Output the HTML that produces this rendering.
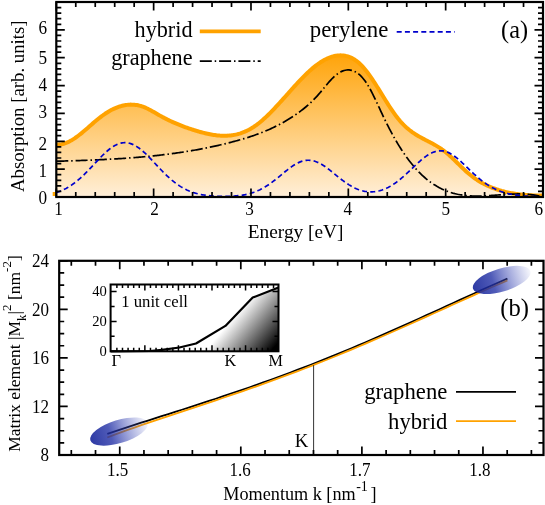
<!DOCTYPE html>
<html><head><meta charset="utf-8"><title>chart</title><style>html,body{margin:0;padding:0;background:#fff}svg{display:block;will-change:transform}</style></head><body>
<svg width="545" height="505" viewBox="0 0 545 505" font-family="Liberation Serif, serif" fill="#000">
<defs>
<linearGradient id="og" gradientUnits="userSpaceOnUse" x1="0" y1="54.9" x2="0" y2="197.0"><stop offset="0" stop-color="#ffa40a"/><stop offset="1" stop-color="#ffefd9"/></linearGradient>
<linearGradient id="ig" gradientUnits="userSpaceOnUse" x1="207.7" y1="347.8" x2="246.3" y2="380.4"><stop offset="0" stop-color="#fff"/><stop offset="1" stop-color="#000"/></linearGradient>
<linearGradient id="eg" x1="0" y1="0" x2="1" y2="0"><stop offset="0" stop-color="#16249a" stop-opacity="0.9"/><stop offset="0.35" stop-color="#2432a6" stop-opacity="0.8"/><stop offset="1" stop-color="#4654c0" stop-opacity="0.05"/></linearGradient>
<clipPath id="ct"><rect x="56.3" y="2.0" width="486.7" height="195.0"/></clipPath>
</defs>
<rect width="545" height="505" fill="#fff"/>
<path d="M56.30,144.33 L57.52,144.43 L58.74,144.44 L59.96,144.37 L61.18,144.23 L62.40,144.01 L63.62,143.71 L64.84,143.35 L66.06,142.92 L67.28,142.43 L68.50,141.88 L69.72,141.27 L70.94,140.61 L72.16,139.91 L73.38,139.15 L74.60,138.35 L75.82,137.51 L77.04,136.64 L78.26,135.73 L79.48,134.79 L80.70,133.82 L81.92,132.83 L83.14,131.82 L84.36,130.80 L85.58,129.75 L86.79,128.70 L88.01,127.64 L89.23,126.57 L90.45,125.51 L91.67,124.44 L92.89,123.39 L94.11,122.33 L95.33,121.30 L96.55,120.27 L97.77,119.27 L98.99,118.28 L100.21,117.32 L101.43,116.39 L102.65,115.49 L103.87,114.62 L105.09,113.78 L106.31,112.98 L107.53,112.21 L108.75,111.47 L109.97,110.77 L111.19,110.11 L112.41,109.48 L113.63,108.88 L114.85,108.33 L116.07,107.81 L117.29,107.32 L118.51,106.88 L119.73,106.47 L120.95,106.10 L122.17,105.78 L123.39,105.49 L124.61,105.24 L125.83,105.03 L127.05,104.87 L128.27,104.74 L129.49,104.66 L130.71,104.62 L131.93,104.63 L133.15,104.67 L134.37,104.77 L135.59,104.90 L136.81,105.08 L138.03,105.31 L139.25,105.59 L140.47,105.91 L141.69,106.27 L142.91,106.69 L144.13,107.15 L145.35,107.66 L146.57,108.21 L147.78,108.79 L149.00,109.41 L150.22,110.05 L151.44,110.72 L152.66,111.40 L153.88,112.10 L155.10,112.80 L156.32,113.51 L157.54,114.22 L158.76,114.93 L159.98,115.62 L161.20,116.30 L162.42,116.96 L163.64,117.62 L164.86,118.25 L166.08,118.88 L167.30,119.49 L168.52,120.09 L169.74,120.68 L170.96,121.25 L172.18,121.82 L173.40,122.37 L174.62,122.91 L175.84,123.43 L177.06,123.95 L178.28,124.46 L179.50,124.95 L180.72,125.44 L181.94,125.91 L183.16,126.38 L184.38,126.83 L185.60,127.28 L186.82,127.71 L188.04,128.14 L189.26,128.56 L190.48,128.96 L191.70,129.37 L192.92,129.76 L194.14,130.14 L195.36,130.52 L196.58,130.89 L197.80,131.25 L199.02,131.61 L200.24,131.95 L201.46,132.28 L202.68,132.61 L203.90,132.92 L205.12,133.22 L206.34,133.51 L207.56,133.78 L208.77,134.04 L209.99,134.28 L211.21,134.51 L212.43,134.72 L213.65,134.92 L214.87,135.09 L216.09,135.25 L217.31,135.39 L218.53,135.50 L219.75,135.60 L220.97,135.67 L222.19,135.73 L223.41,135.75 L224.63,135.76 L225.85,135.74 L227.07,135.69 L228.29,135.62 L229.51,135.52 L230.73,135.40 L231.95,135.24 L233.17,135.06 L234.39,134.85 L235.61,134.60 L236.83,134.33 L238.05,134.02 L239.27,133.68 L240.49,133.31 L241.71,132.90 L242.93,132.46 L244.15,131.98 L245.37,131.46 L246.59,130.91 L247.81,130.32 L249.03,129.69 L250.25,129.02 L251.47,128.31 L252.69,127.56 L253.91,126.77 L255.13,125.94 L256.35,125.07 L257.57,124.16 L258.79,123.21 L260.01,122.23 L261.23,121.21 L262.45,120.17 L263.67,119.09 L264.89,117.98 L266.11,116.85 L267.33,115.69 L268.55,114.51 L269.76,113.30 L270.98,112.07 L272.20,110.82 L273.42,109.55 L274.64,108.27 L275.86,106.97 L277.08,105.66 L278.30,104.33 L279.52,103.00 L280.74,101.65 L281.96,100.30 L283.18,98.94 L284.40,97.58 L285.62,96.21 L286.84,94.84 L288.06,93.47 L289.28,92.10 L290.50,90.74 L291.72,89.38 L292.94,88.02 L294.16,86.68 L295.38,85.34 L296.60,84.01 L297.82,82.70 L299.04,81.39 L300.26,80.11 L301.48,78.84 L302.70,77.58 L303.92,76.35 L305.14,75.14 L306.36,73.95 L307.58,72.78 L308.80,71.64 L310.02,70.53 L311.24,69.44 L312.46,68.39 L313.68,67.37 L314.90,66.38 L316.12,65.42 L317.34,64.51 L318.56,63.62 L319.78,62.78 L321.00,61.98 L322.22,61.22 L323.44,60.50 L324.66,59.82 L325.88,59.18 L327.10,58.59 L328.32,58.05 L329.54,57.55 L330.75,57.10 L331.97,56.70 L333.19,56.35 L334.41,56.05 L335.63,55.80 L336.85,55.61 L338.07,55.46 L339.29,55.38 L340.51,55.35 L341.73,55.38 L342.95,55.46 L344.17,55.61 L345.39,55.83 L346.61,56.10 L347.83,56.45 L349.05,56.86 L350.27,57.34 L351.49,57.90 L352.71,58.53 L353.93,59.23 L355.15,60.02 L356.37,60.88 L357.59,61.82 L358.81,62.84 L360.03,63.95 L361.25,65.15 L362.47,66.43 L363.69,67.79 L364.91,69.23 L366.13,70.74 L367.35,72.32 L368.57,73.96 L369.79,75.65 L371.01,77.40 L372.23,79.19 L373.45,81.02 L374.67,82.89 L375.89,84.79 L377.11,86.71 L378.33,88.65 L379.55,90.61 L380.77,92.58 L381.99,94.55 L383.21,96.53 L384.43,98.50 L385.65,100.45 L386.87,102.39 L388.09,104.31 L389.31,106.21 L390.53,108.07 L391.74,109.90 L392.96,111.69 L394.18,113.43 L395.40,115.12 L396.62,116.75 L397.84,118.32 L399.06,119.82 L400.28,121.26 L401.50,122.62 L402.72,123.92 L403.94,125.15 L405.16,126.32 L406.38,127.44 L407.60,128.50 L408.82,129.52 L410.04,130.48 L411.26,131.40 L412.48,132.29 L413.70,133.13 L414.92,133.94 L416.14,134.71 L417.36,135.46 L418.58,136.18 L419.80,136.88 L421.02,137.56 L422.24,138.23 L423.46,138.88 L424.68,139.52 L425.90,140.16 L427.12,140.79 L428.34,141.42 L429.56,142.06 L430.78,142.70 L432.00,143.35 L433.22,144.01 L434.44,144.69 L435.66,145.39 L436.88,146.11 L438.10,146.85 L439.32,147.62 L440.54,148.43 L441.76,149.26 L442.98,150.14 L444.20,151.05 L445.42,152.01 L446.64,153.01 L447.86,154.05 L449.08,155.12 L450.30,156.23 L451.52,157.36 L452.73,158.51 L453.95,159.68 L455.17,160.86 L456.39,162.05 L457.61,163.25 L458.83,164.44 L460.05,165.64 L461.27,166.82 L462.49,168.00 L463.71,169.16 L464.93,170.30 L466.15,171.42 L467.37,172.51 L468.59,173.56 L469.81,174.58 L471.03,175.56 L472.25,176.51 L473.47,177.42 L474.69,178.30 L475.91,179.14 L477.13,179.96 L478.35,180.74 L479.57,181.49 L480.79,182.21 L482.01,182.90 L483.23,183.57 L484.45,184.20 L485.67,184.82 L486.89,185.41 L488.11,185.97 L489.33,186.51 L490.55,187.03 L491.77,187.54 L492.99,188.02 L494.21,188.48 L495.43,188.92 L496.65,189.34 L497.87,189.75 L499.09,190.14 L500.31,190.50 L501.53,190.86 L502.75,191.19 L503.97,191.51 L505.19,191.82 L506.41,192.11 L507.63,192.38 L508.85,192.64 L510.07,192.88 L511.29,193.11 L512.51,193.33 L513.72,193.54 L514.94,193.73 L516.16,193.91 L517.38,194.08 L518.60,194.23 L519.82,194.38 L521.04,194.52 L522.26,194.64 L523.48,194.76 L524.70,194.86 L525.92,194.96 L527.14,195.05 L528.36,195.13 L529.58,195.21 L530.80,195.27 L532.02,195.33 L533.24,195.39 L534.46,195.43 L535.68,195.48 L536.90,195.51 L538.12,195.54 L539.34,195.57 L540.56,195.60 L541.78,195.62 L543.00,195.63 L543.00,197.00 L56.30,197.00 Z" fill="url(#og)" stroke="none"/>
<rect x="52.7" y="192" width="2.6" height="4" fill="#ffa500"/>
<path d="M56.30,144.33 L57.52,144.43 L58.74,144.44 L59.96,144.37 L61.18,144.23 L62.40,144.01 L63.62,143.71 L64.84,143.35 L66.06,142.92 L67.28,142.43 L68.50,141.88 L69.72,141.27 L70.94,140.61 L72.16,139.91 L73.38,139.15 L74.60,138.35 L75.82,137.51 L77.04,136.64 L78.26,135.73 L79.48,134.79 L80.70,133.82 L81.92,132.83 L83.14,131.82 L84.36,130.80 L85.58,129.75 L86.79,128.70 L88.01,127.64 L89.23,126.57 L90.45,125.51 L91.67,124.44 L92.89,123.39 L94.11,122.33 L95.33,121.30 L96.55,120.27 L97.77,119.27 L98.99,118.28 L100.21,117.32 L101.43,116.39 L102.65,115.49 L103.87,114.62 L105.09,113.78 L106.31,112.98 L107.53,112.21 L108.75,111.47 L109.97,110.77 L111.19,110.11 L112.41,109.48 L113.63,108.88 L114.85,108.33 L116.07,107.81 L117.29,107.32 L118.51,106.88 L119.73,106.47 L120.95,106.10 L122.17,105.78 L123.39,105.49 L124.61,105.24 L125.83,105.03 L127.05,104.87 L128.27,104.74 L129.49,104.66 L130.71,104.62 L131.93,104.63 L133.15,104.67 L134.37,104.77 L135.59,104.90 L136.81,105.08 L138.03,105.31 L139.25,105.59 L140.47,105.91 L141.69,106.27 L142.91,106.69 L144.13,107.15 L145.35,107.66 L146.57,108.21 L147.78,108.79 L149.00,109.41 L150.22,110.05 L151.44,110.72 L152.66,111.40 L153.88,112.10 L155.10,112.80 L156.32,113.51 L157.54,114.22 L158.76,114.93 L159.98,115.62 L161.20,116.30 L162.42,116.96 L163.64,117.62 L164.86,118.25 L166.08,118.88 L167.30,119.49 L168.52,120.09 L169.74,120.68 L170.96,121.25 L172.18,121.82 L173.40,122.37 L174.62,122.91 L175.84,123.43 L177.06,123.95 L178.28,124.46 L179.50,124.95 L180.72,125.44 L181.94,125.91 L183.16,126.38 L184.38,126.83 L185.60,127.28 L186.82,127.71 L188.04,128.14 L189.26,128.56 L190.48,128.96 L191.70,129.37 L192.92,129.76 L194.14,130.14 L195.36,130.52 L196.58,130.89 L197.80,131.25 L199.02,131.61 L200.24,131.95 L201.46,132.28 L202.68,132.61 L203.90,132.92 L205.12,133.22 L206.34,133.51 L207.56,133.78 L208.77,134.04 L209.99,134.28 L211.21,134.51 L212.43,134.72 L213.65,134.92 L214.87,135.09 L216.09,135.25 L217.31,135.39 L218.53,135.50 L219.75,135.60 L220.97,135.67 L222.19,135.73 L223.41,135.75 L224.63,135.76 L225.85,135.74 L227.07,135.69 L228.29,135.62 L229.51,135.52 L230.73,135.40 L231.95,135.24 L233.17,135.06 L234.39,134.85 L235.61,134.60 L236.83,134.33 L238.05,134.02 L239.27,133.68 L240.49,133.31 L241.71,132.90 L242.93,132.46 L244.15,131.98 L245.37,131.46 L246.59,130.91 L247.81,130.32 L249.03,129.69 L250.25,129.02 L251.47,128.31 L252.69,127.56 L253.91,126.77 L255.13,125.94 L256.35,125.07 L257.57,124.16 L258.79,123.21 L260.01,122.23 L261.23,121.21 L262.45,120.17 L263.67,119.09 L264.89,117.98 L266.11,116.85 L267.33,115.69 L268.55,114.51 L269.76,113.30 L270.98,112.07 L272.20,110.82 L273.42,109.55 L274.64,108.27 L275.86,106.97 L277.08,105.66 L278.30,104.33 L279.52,103.00 L280.74,101.65 L281.96,100.30 L283.18,98.94 L284.40,97.58 L285.62,96.21 L286.84,94.84 L288.06,93.47 L289.28,92.10 L290.50,90.74 L291.72,89.38 L292.94,88.02 L294.16,86.68 L295.38,85.34 L296.60,84.01 L297.82,82.70 L299.04,81.39 L300.26,80.11 L301.48,78.84 L302.70,77.58 L303.92,76.35 L305.14,75.14 L306.36,73.95 L307.58,72.78 L308.80,71.64 L310.02,70.53 L311.24,69.44 L312.46,68.39 L313.68,67.37 L314.90,66.38 L316.12,65.42 L317.34,64.51 L318.56,63.62 L319.78,62.78 L321.00,61.98 L322.22,61.22 L323.44,60.50 L324.66,59.82 L325.88,59.18 L327.10,58.59 L328.32,58.05 L329.54,57.55 L330.75,57.10 L331.97,56.70 L333.19,56.35 L334.41,56.05 L335.63,55.80 L336.85,55.61 L338.07,55.46 L339.29,55.38 L340.51,55.35 L341.73,55.38 L342.95,55.46 L344.17,55.61 L345.39,55.83 L346.61,56.10 L347.83,56.45 L349.05,56.86 L350.27,57.34 L351.49,57.90 L352.71,58.53 L353.93,59.23 L355.15,60.02 L356.37,60.88 L357.59,61.82 L358.81,62.84 L360.03,63.95 L361.25,65.15 L362.47,66.43 L363.69,67.79 L364.91,69.23 L366.13,70.74 L367.35,72.32 L368.57,73.96 L369.79,75.65 L371.01,77.40 L372.23,79.19 L373.45,81.02 L374.67,82.89 L375.89,84.79 L377.11,86.71 L378.33,88.65 L379.55,90.61 L380.77,92.58 L381.99,94.55 L383.21,96.53 L384.43,98.50 L385.65,100.45 L386.87,102.39 L388.09,104.31 L389.31,106.21 L390.53,108.07 L391.74,109.90 L392.96,111.69 L394.18,113.43 L395.40,115.12 L396.62,116.75 L397.84,118.32 L399.06,119.82 L400.28,121.26 L401.50,122.62 L402.72,123.92 L403.94,125.15 L405.16,126.32 L406.38,127.44 L407.60,128.50 L408.82,129.52 L410.04,130.48 L411.26,131.40 L412.48,132.29 L413.70,133.13 L414.92,133.94 L416.14,134.71 L417.36,135.46 L418.58,136.18 L419.80,136.88 L421.02,137.56 L422.24,138.23 L423.46,138.88 L424.68,139.52 L425.90,140.16 L427.12,140.79 L428.34,141.42 L429.56,142.06 L430.78,142.70 L432.00,143.35 L433.22,144.01 L434.44,144.69 L435.66,145.39 L436.88,146.11 L438.10,146.85 L439.32,147.62 L440.54,148.43 L441.76,149.26 L442.98,150.14 L444.20,151.05 L445.42,152.01 L446.64,153.01 L447.86,154.05 L449.08,155.12 L450.30,156.23 L451.52,157.36 L452.73,158.51 L453.95,159.68 L455.17,160.86 L456.39,162.05 L457.61,163.25 L458.83,164.44 L460.05,165.64 L461.27,166.82 L462.49,168.00 L463.71,169.16 L464.93,170.30 L466.15,171.42 L467.37,172.51 L468.59,173.56 L469.81,174.58 L471.03,175.56 L472.25,176.51 L473.47,177.42 L474.69,178.30 L475.91,179.14 L477.13,179.96 L478.35,180.74 L479.57,181.49 L480.79,182.21 L482.01,182.90 L483.23,183.57 L484.45,184.20 L485.67,184.82 L486.89,185.41 L488.11,185.97 L489.33,186.51 L490.55,187.03 L491.77,187.54 L492.99,188.02 L494.21,188.48 L495.43,188.92 L496.65,189.34 L497.87,189.75 L499.09,190.14 L500.31,190.50 L501.53,190.86 L502.75,191.19 L503.97,191.51 L505.19,191.82 L506.41,192.11 L507.63,192.38 L508.85,192.64 L510.07,192.88 L511.29,193.11 L512.51,193.33 L513.72,193.54 L514.94,193.73 L516.16,193.91 L517.38,194.08 L518.60,194.23 L519.82,194.38 L521.04,194.52 L522.26,194.64 L523.48,194.76 L524.70,194.86 L525.92,194.96 L527.14,195.05 L528.36,195.13 L529.58,195.21 L530.80,195.27 L532.02,195.33 L533.24,195.39 L534.46,195.43 L535.68,195.48 L536.90,195.51 L538.12,195.54 L539.34,195.57 L540.56,195.60 L541.78,195.62 L543.00,195.63" fill="none" stroke="#ffa200" stroke-width="4" stroke-linejoin="round"/>
<path d="M56.30,161.25 L57.52,161.21 L58.74,161.18 L59.96,161.14 L61.18,161.11 L62.40,161.07 L63.62,161.04 L64.84,161.00 L66.06,160.96 L67.28,160.93 L68.50,160.89 L69.72,160.85 L70.94,160.81 L72.16,160.78 L73.38,160.74 L74.60,160.70 L75.82,160.66 L77.04,160.62 L78.26,160.58 L79.48,160.53 L80.70,160.49 L81.92,160.45 L83.14,160.41 L84.36,160.36 L85.58,160.32 L86.79,160.27 L88.01,160.22 L89.23,160.18 L90.45,160.13 L91.67,160.08 L92.89,160.03 L94.11,159.98 L95.33,159.92 L96.55,159.87 L97.77,159.82 L98.99,159.76 L100.21,159.70 L101.43,159.65 L102.65,159.59 L103.87,159.53 L105.09,159.47 L106.31,159.41 L107.53,159.34 L108.75,159.28 L109.97,159.21 L111.19,159.15 L112.41,159.08 L113.63,159.01 L114.85,158.94 L116.07,158.87 L117.29,158.79 L118.51,158.72 L119.73,158.64 L120.95,158.56 L122.17,158.48 L123.39,158.40 L124.61,158.32 L125.83,158.24 L127.05,158.15 L128.27,158.06 L129.49,157.97 L130.71,157.88 L131.93,157.79 L133.15,157.70 L134.37,157.60 L135.59,157.50 L136.81,157.40 L138.03,157.30 L139.25,157.20 L140.47,157.10 L141.69,156.99 L142.91,156.88 L144.13,156.77 L145.35,156.66 L146.57,156.54 L147.78,156.42 L149.00,156.31 L150.22,156.18 L151.44,156.06 L152.66,155.94 L153.88,155.81 L155.10,155.68 L156.32,155.55 L157.54,155.41 L158.76,155.28 L159.98,155.14 L161.20,155.00 L162.42,154.85 L163.64,154.71 L164.86,154.56 L166.08,154.41 L167.30,154.26 L168.52,154.10 L169.74,153.94 L170.96,153.78 L172.18,153.62 L173.40,153.46 L174.62,153.29 L175.84,153.12 L177.06,152.94 L178.28,152.77 L179.50,152.59 L180.72,152.41 L181.94,152.22 L183.16,152.04 L184.38,151.85 L185.60,151.66 L186.82,151.46 L188.04,151.26 L189.26,151.06 L190.48,150.86 L191.70,150.65 L192.92,150.44 L194.14,150.23 L195.36,150.01 L196.58,149.79 L197.80,149.57 L199.02,149.35 L200.24,149.12 L201.46,148.89 L202.68,148.65 L203.90,148.42 L205.12,148.18 L206.34,147.93 L207.56,147.68 L208.77,147.43 L209.99,147.18 L211.21,146.92 L212.43,146.66 L213.65,146.40 L214.87,146.13 L216.09,145.86 L217.31,145.59 L218.53,145.31 L219.75,145.03 L220.97,144.74 L222.19,144.45 L223.41,144.16 L224.63,143.87 L225.85,143.57 L227.07,143.26 L228.29,142.96 L229.51,142.65 L230.73,142.33 L231.95,142.01 L233.17,141.69 L234.39,141.37 L235.61,141.04 L236.83,140.70 L238.05,140.36 L239.27,140.02 L240.49,139.67 L241.71,139.32 L242.93,138.96 L244.15,138.59 L245.37,138.22 L246.59,137.85 L247.81,137.46 L249.03,137.07 L250.25,136.67 L251.47,136.27 L252.69,135.86 L253.91,135.44 L255.13,135.01 L256.35,134.57 L257.57,134.13 L258.79,133.67 L260.01,133.21 L261.23,132.74 L262.45,132.26 L263.67,131.77 L264.89,131.27 L266.11,130.76 L267.33,130.24 L268.55,129.71 L269.76,129.16 L270.98,128.61 L272.20,128.05 L273.42,127.47 L274.64,126.88 L275.86,126.28 L277.08,125.67 L278.30,125.05 L279.52,124.41 L280.74,123.76 L281.96,123.09 L283.18,122.42 L284.40,121.72 L285.62,121.02 L286.84,120.30 L288.06,119.57 L289.28,118.82 L290.50,118.05 L291.72,117.27 L292.94,116.48 L294.16,115.67 L295.38,114.84 L296.60,114.00 L297.82,113.14 L299.04,112.26 L300.26,111.36 L301.48,110.44 L302.70,109.49 L303.92,108.52 L305.14,107.52 L306.36,106.49 L307.58,105.44 L308.80,104.36 L310.02,103.24 L311.24,102.09 L312.46,100.91 L313.68,99.69 L314.90,98.43 L316.12,97.14 L317.34,95.81 L318.56,94.43 L319.78,93.02 L321.00,91.58 L322.22,90.11 L323.44,88.63 L324.66,87.15 L325.88,85.68 L327.10,84.22 L328.32,82.80 L329.54,81.40 L330.75,80.06 L331.97,78.77 L333.19,77.54 L334.41,76.40 L335.63,75.33 L336.85,74.36 L338.07,73.48 L339.29,72.69 L340.51,72.00 L341.73,71.40 L342.95,70.90 L344.17,70.50 L345.39,70.21 L346.61,70.01 L347.83,69.92 L349.05,69.94 L350.27,70.06 L351.49,70.30 L352.71,70.64 L353.93,71.10 L355.15,71.68 L356.37,72.38 L357.59,73.19 L358.81,74.13 L360.03,75.20 L361.25,76.40 L362.47,77.72 L363.69,79.18 L364.91,80.77 L366.13,82.50 L367.35,84.37 L368.57,86.37 L369.79,88.51 L371.01,90.75 L372.23,93.10 L373.45,95.53 L374.67,98.03 L375.89,100.59 L377.11,103.19 L378.33,105.81 L379.55,108.45 L380.77,111.09 L381.99,113.71 L383.21,116.29 L384.43,118.84 L385.65,121.34 L386.87,123.79 L388.09,126.20 L389.31,128.56 L390.53,130.88 L391.74,133.15 L392.96,135.38 L394.18,137.56 L395.40,139.69 L396.62,141.78 L397.84,143.82 L399.06,145.82 L400.28,147.78 L401.50,149.69 L402.72,151.55 L403.94,153.37 L405.16,155.14 L406.38,156.87 L407.60,158.55 L408.82,160.19 L410.04,161.78 L411.26,163.33 L412.48,164.84 L413.70,166.30 L414.92,167.71 L416.14,169.08 L417.36,170.41 L418.58,171.70 L419.80,172.94 L421.02,174.14 L422.24,175.31 L423.46,176.43 L424.68,177.51 L425.90,178.55 L427.12,179.56 L428.34,180.53 L429.56,181.46 L430.78,182.36 L432.00,183.22 L433.22,184.04 L434.44,184.84 L435.66,185.59 L436.88,186.32 L438.10,187.01 L439.32,187.67 L440.54,188.31 L441.76,188.91 L442.98,189.48 L444.20,190.02 L445.42,190.53 L446.64,191.02 L447.86,191.48 L449.08,191.91 L450.30,192.32 L451.52,192.70 L452.73,193.06 L453.95,193.39 L455.17,193.70 L456.39,193.99 L457.61,194.26 L458.83,194.50 L460.05,194.73 L461.27,194.93 L462.49,195.11 L463.71,195.28 L464.93,195.43 L466.15,195.56 L467.37,195.68 L468.59,195.77 L469.81,195.86 L471.03,195.93 L472.25,195.98 L473.47,196.02 L474.69,196.05 L475.91,196.06 L477.13,196.07 L478.35,196.06 L479.57,196.04 L480.79,196.02 L482.01,195.98 L483.23,195.94 L484.45,195.89 L485.67,195.83 L486.89,195.76 L488.11,195.69 L489.33,195.62 L490.55,195.54 L491.77,195.45 L492.99,195.37 L494.21,195.28 L495.43,195.19 L496.65,195.09 L497.87,195.00 L499.09,194.91 L500.31,194.82 L501.53,194.73 L502.75,194.64 L503.97,194.55 L505.19,194.47 L506.41,194.39 L507.63,194.31 L508.85,194.24 L510.07,194.18 L511.29,194.13 L512.51,194.08 L513.72,194.03 L514.94,194.00 L516.16,193.98 L517.38,193.96 L518.60,193.96 L519.82,193.97 L521.04,193.98 L522.26,194.02 L523.48,194.06 L524.70,194.12 L525.92,194.19 L527.14,194.28 L528.36,194.38 L529.58,194.50 L530.80,194.63 L532.02,194.79 L533.24,194.96 L534.46,195.15 L535.68,195.36 L536.90,195.59 L538.12,195.84 L539.34,196.11 L540.56,196.40 L541.78,196.72 L543.00,197.00" fill="none" stroke="#000" stroke-width="1.7" stroke-dasharray="12,2.9,1.5,2.9" clip-path="url(#ct)"/>
<path d="M56.30,192.56 L57.52,192.15 L58.74,191.71 L59.96,191.24 L61.18,190.74 L62.40,190.21 L63.62,189.64 L64.84,189.04 L66.06,188.40 L67.28,187.72 L68.50,187.01 L69.72,186.26 L70.94,185.47 L72.16,184.64 L73.38,183.78 L74.60,182.88 L75.82,181.93 L77.04,180.96 L78.26,179.94 L79.48,178.89 L80.70,177.81 L81.92,176.69 L83.14,175.54 L84.36,174.36 L85.58,173.16 L86.79,171.93 L88.01,170.68 L89.23,169.41 L90.45,168.12 L91.67,166.83 L92.89,165.52 L94.11,164.21 L95.33,162.90 L96.55,161.60 L97.77,160.30 L98.99,159.01 L100.21,157.74 L101.43,156.50 L102.65,155.27 L103.87,154.09 L105.09,152.93 L106.31,151.82 L107.53,150.75 L108.75,149.73 L109.97,148.77 L111.19,147.86 L112.41,147.02 L113.63,146.24 L114.85,145.53 L116.07,144.90 L117.29,144.34 L118.51,143.85 L119.73,143.45 L120.95,143.13 L122.17,142.90 L123.39,142.75 L124.61,142.68 L125.83,142.70 L127.05,142.81 L128.27,143.00 L129.49,143.28 L130.71,143.64 L131.93,144.08 L133.15,144.60 L134.37,145.19 L135.59,145.87 L136.81,146.61 L138.03,147.42 L139.25,148.29 L140.47,149.23 L141.69,150.22 L142.91,151.26 L144.13,152.35 L145.35,153.48 L146.57,154.65 L147.78,155.86 L149.00,157.09 L150.22,158.35 L151.44,159.63 L152.66,160.92 L153.88,162.22 L155.10,163.53 L156.32,164.84 L157.54,166.15 L158.76,167.45 L159.98,168.75 L161.20,170.02 L162.42,171.28 L163.64,172.52 L164.86,173.74 L166.08,174.93 L167.30,176.10 L168.52,177.23 L169.74,178.33 L170.96,179.40 L172.18,180.44 L173.40,181.43 L174.62,182.39 L175.84,183.32 L177.06,184.20 L178.28,185.05 L179.50,185.86 L180.72,186.63 L181.94,187.36 L183.16,188.05 L184.38,188.71 L185.60,189.33 L186.82,189.92 L188.04,190.47 L189.26,190.99 L190.48,191.47 L191.70,191.92 L192.92,192.35 L194.14,192.74 L195.36,193.11 L196.58,193.45 L197.80,193.77 L199.02,194.06 L200.24,194.33 L201.46,194.58 L202.68,194.80 L203.90,195.01 L205.12,195.20 L206.34,195.37 L207.56,195.53 L208.77,195.67 L209.99,195.80 L211.21,195.91 L212.43,196.01 L213.65,196.10 L214.87,196.18 L216.09,196.24 L217.31,196.30 L218.53,196.34 L219.75,196.38 L220.97,196.41 L222.19,196.42 L223.41,196.43 L224.63,196.43 L225.85,196.42 L227.07,196.40 L228.29,196.37 L229.51,196.33 L230.73,196.28 L231.95,196.22 L233.17,196.14 L234.39,196.06 L235.61,195.96 L236.83,195.85 L238.05,195.72 L239.27,195.58 L240.49,195.41 L241.71,195.24 L242.93,195.04 L244.15,194.82 L245.37,194.59 L246.59,194.32 L247.81,194.04 L249.03,193.73 L250.25,193.40 L251.47,193.04 L252.69,192.64 L253.91,192.23 L255.13,191.78 L256.35,191.29 L257.57,190.78 L258.79,190.24 L260.01,189.66 L261.23,189.04 L262.45,188.40 L263.67,187.72 L264.89,187.01 L266.11,186.26 L267.33,185.48 L268.55,184.67 L269.76,183.83 L270.98,182.97 L272.20,182.07 L273.42,181.15 L274.64,180.21 L275.86,179.25 L277.08,178.28 L278.30,177.29 L279.52,176.29 L280.74,175.28 L281.96,174.27 L283.18,173.26 L284.40,172.26 L285.62,171.27 L286.84,170.30 L288.06,169.34 L289.28,168.41 L290.50,167.51 L291.72,166.64 L292.94,165.81 L294.16,165.02 L295.38,164.28 L296.60,163.59 L297.82,162.96 L299.04,162.38 L300.26,161.87 L301.48,161.42 L302.70,161.04 L303.92,160.73 L305.14,160.50 L306.36,160.33 L307.58,160.24 L308.80,160.23 L310.02,160.29 L311.24,160.43 L312.46,160.64 L313.68,160.92 L314.90,161.27 L316.12,161.70 L317.34,162.18 L318.56,162.73 L319.78,163.35 L321.00,164.01 L322.22,164.73 L323.44,165.50 L324.66,166.32 L325.88,167.17 L327.10,168.05 L328.32,168.97 L329.54,169.91 L330.75,170.88 L331.97,171.86 L333.19,172.85 L334.41,173.84 L335.63,174.84 L336.85,175.84 L338.07,176.83 L339.29,177.81 L340.51,178.77 L341.73,179.72 L342.95,180.65 L344.17,181.55 L345.39,182.42 L346.61,183.27 L347.83,184.08 L349.05,184.86 L350.27,185.60 L351.49,186.31 L352.71,186.98 L353.93,187.60 L355.15,188.19 L356.37,188.73 L357.59,189.23 L358.81,189.69 L360.03,190.11 L361.25,190.48 L362.47,190.80 L363.69,191.09 L364.91,191.33 L366.13,191.52 L367.35,191.67 L368.57,191.78 L369.79,191.84 L371.01,191.86 L372.23,191.83 L373.45,191.76 L374.67,191.64 L375.89,191.48 L377.11,191.28 L378.33,191.03 L379.55,190.74 L380.77,190.40 L381.99,190.02 L383.21,189.60 L384.43,189.13 L385.65,188.62 L386.87,188.06 L388.09,187.46 L389.31,186.82 L390.53,186.13 L391.74,185.41 L392.96,184.64 L394.18,183.83 L395.40,182.98 L396.62,182.09 L397.84,181.17 L399.06,180.21 L400.28,179.22 L401.50,178.20 L402.72,177.15 L403.94,176.07 L405.16,174.97 L406.38,173.85 L407.60,172.72 L408.82,171.57 L410.04,170.41 L411.26,169.24 L412.48,168.08 L413.70,166.91 L414.92,165.75 L416.14,164.61 L417.36,163.48 L418.58,162.37 L419.80,161.28 L421.02,160.22 L422.24,159.20 L423.46,158.22 L424.68,157.28 L425.90,156.39 L427.12,155.56 L428.34,154.78 L429.56,154.05 L430.78,153.40 L432.00,152.81 L433.22,152.29 L434.44,151.84 L435.66,151.47 L436.88,151.17 L438.10,150.95 L439.32,150.82 L440.54,150.76 L441.76,150.79 L442.98,150.91 L444.20,151.13 L445.42,151.43 L446.64,151.83 L447.86,152.31 L449.08,152.87 L450.30,153.50 L451.52,154.21 L452.73,154.99 L453.95,155.83 L455.17,156.73 L456.39,157.68 L457.61,158.68 L458.83,159.72 L460.05,160.79 L461.27,161.89 L462.49,163.02 L463.71,164.17 L464.93,165.34 L466.15,166.51 L467.37,167.69 L468.59,168.87 L469.81,170.05 L471.03,171.21 L472.25,172.37 L473.47,173.51 L474.69,174.63 L475.91,175.74 L477.13,176.81 L478.35,177.87 L479.57,178.89 L480.79,179.88 L482.01,180.85 L483.23,181.78 L484.45,182.68 L485.67,183.54 L486.89,184.37 L488.11,185.16 L489.33,185.92 L490.55,186.65 L491.77,187.34 L492.99,187.99 L494.21,188.61 L495.43,189.20 L496.65,189.76 L497.87,190.29 L499.09,190.78 L500.31,191.25 L501.53,191.68 L502.75,192.09 L503.97,192.48 L505.19,192.84 L506.41,193.17 L507.63,193.48 L508.85,193.77 L510.07,194.04 L511.29,194.29 L512.51,194.52 L513.72,194.74 L514.94,194.94 L516.16,195.12 L517.38,195.29 L518.60,195.44 L519.82,195.58 L521.04,195.71 L522.26,195.83 L523.48,195.94 L524.70,196.04 L525.92,196.14 L527.14,196.22 L528.36,196.30 L529.58,196.36 L530.80,196.43 L532.02,196.49 L533.24,196.54 L534.46,196.58 L535.68,196.63 L536.90,196.67 L538.12,196.70 L539.34,196.73 L540.56,196.76 L541.78,196.79 L543.00,196.81" fill="none" stroke="#0000cc" stroke-width="1.7" stroke-dasharray="5,3.2" clip-path="url(#ct)"/>
<path d="M56.30,197.0 v-8.5 M56.30,2.0 v8.5 M75.77,197.0 v-5 M75.77,2.0 v5 M95.24,197.0 v-5 M95.24,2.0 v5 M114.70,197.0 v-5 M114.70,2.0 v5 M134.17,197.0 v-5 M134.17,2.0 v5 M153.64,197.0 v-8.5 M153.64,2.0 v8.5 M173.11,197.0 v-5 M173.11,2.0 v5 M192.58,197.0 v-5 M192.58,2.0 v5 M212.04,197.0 v-5 M212.04,2.0 v5 M231.51,197.0 v-5 M231.51,2.0 v5 M250.98,197.0 v-8.5 M250.98,2.0 v8.5 M270.45,197.0 v-5 M270.45,2.0 v5 M289.92,197.0 v-5 M289.92,2.0 v5 M309.38,197.0 v-5 M309.38,2.0 v5 M328.85,197.0 v-5 M328.85,2.0 v5 M348.32,197.0 v-8.5 M348.32,2.0 v8.5 M367.79,197.0 v-5 M367.79,2.0 v5 M387.26,197.0 v-5 M387.26,2.0 v5 M406.72,197.0 v-5 M406.72,2.0 v5 M426.19,197.0 v-5 M426.19,2.0 v5 M445.66,197.0 v-8.5 M445.66,2.0 v8.5 M465.13,197.0 v-5 M465.13,2.0 v5 M484.60,197.0 v-5 M484.60,2.0 v5 M504.06,197.0 v-5 M504.06,2.0 v5 M523.53,197.0 v-5 M523.53,2.0 v5 M543.00,197.0 v-8.5 M543.00,2.0 v8.5 M56.3,197.00 h8.5 M543.0,197.00 h-8.5 M56.3,191.43 h5 M543.0,191.43 h-5 M56.3,185.86 h5 M543.0,185.86 h-5 M56.3,180.29 h5 M543.0,180.29 h-5 M56.3,174.71 h5 M543.0,174.71 h-5 M56.3,169.14 h8.5 M543.0,169.14 h-8.5 M56.3,163.57 h5 M543.0,163.57 h-5 M56.3,158.00 h5 M543.0,158.00 h-5 M56.3,152.43 h5 M543.0,152.43 h-5 M56.3,146.86 h5 M543.0,146.86 h-5 M56.3,141.29 h8.5 M543.0,141.29 h-8.5 M56.3,135.71 h5 M543.0,135.71 h-5 M56.3,130.14 h5 M543.0,130.14 h-5 M56.3,124.57 h5 M543.0,124.57 h-5 M56.3,119.00 h5 M543.0,119.00 h-5 M56.3,113.43 h8.5 M543.0,113.43 h-8.5 M56.3,107.86 h5 M543.0,107.86 h-5 M56.3,102.29 h5 M543.0,102.29 h-5 M56.3,96.71 h5 M543.0,96.71 h-5 M56.3,91.14 h5 M543.0,91.14 h-5 M56.3,85.57 h8.5 M543.0,85.57 h-8.5 M56.3,80.00 h5 M543.0,80.00 h-5 M56.3,74.43 h5 M543.0,74.43 h-5 M56.3,68.86 h5 M543.0,68.86 h-5 M56.3,63.29 h5 M543.0,63.29 h-5 M56.3,57.71 h8.5 M543.0,57.71 h-8.5 M56.3,52.14 h5 M543.0,52.14 h-5 M56.3,46.57 h5 M543.0,46.57 h-5 M56.3,41.00 h5 M543.0,41.00 h-5 M56.3,35.43 h5 M543.0,35.43 h-5 M56.3,29.86 h8.5 M543.0,29.86 h-8.5 M56.3,24.29 h5 M543.0,24.29 h-5 M56.3,18.71 h5 M543.0,18.71 h-5 M56.3,13.14 h5 M543.0,13.14 h-5 M56.3,7.57 h5 M543.0,7.57 h-5 M56.3,2.00 h8.5 M543.0,2.00 h-8.5" stroke="#000" stroke-width="1.7" fill="none"/>
<rect x="56.3" y="2.0" width="486.7" height="195.0" fill="none" stroke="#000" stroke-width="2.2"/>
<text transform="translate(47.0,204.2) scale(1,1.08)" font-size="17.2" text-anchor="end">0</text>
<text transform="translate(47.0,177.0) scale(1,1.08)" font-size="17.2" text-anchor="end">1</text>
<text transform="translate(47.0,150.1) scale(1,1.08)" font-size="17.2" text-anchor="end">2</text>
<text transform="translate(47.0,117.5) scale(1,1.08)" font-size="17.2" text-anchor="end">3</text>
<text transform="translate(47.0,90.9) scale(1,1.08)" font-size="17.2" text-anchor="end">4</text>
<text transform="translate(47.0,63.8) scale(1,1.08)" font-size="17.2" text-anchor="end">5</text>
<text transform="translate(47.0,34.0) scale(1,1.08)" font-size="17.2" text-anchor="end">6</text>
<text transform="translate(58.5,214.7) scale(1,1.06)" font-size="17.2" text-anchor="middle">1</text>
<text transform="translate(154.5,214.7) scale(1,1.06)" font-size="17.2" text-anchor="middle">2</text>
<text transform="translate(249.5,214.7) scale(1,1.06)" font-size="17.2" text-anchor="middle">3</text>
<text transform="translate(347.9,214.7) scale(1,1.06)" font-size="17.2" text-anchor="middle">4</text>
<text transform="translate(445.9,214.7) scale(1,1.06)" font-size="17.2" text-anchor="middle">5</text>
<text transform="translate(538.8,214.7) scale(1,1.06)" font-size="17.2" text-anchor="middle">6</text>
<text x="295.6" y="238" font-size="19.3" text-anchor="middle">Energy [eV]</text>
<text transform="translate(23.8,106.2) rotate(-90)" font-size="18.8" text-anchor="middle">Absorption [arb. units]</text>
<text x="192.5" y="36.7" font-size="22.2" text-anchor="end">hybrid</text>
<path d="M199.8,31.4 H260.7" stroke="#ffa200" stroke-width="3.9"/>
<text x="192.5" y="65.3" font-size="22.2" text-anchor="end">graphene</text>
<path d="M199.8,61.1 H260.7" stroke="#000" stroke-width="1.7" stroke-dasharray="12,2.9,1.5,2.9"/>
<text x="388.3" y="37" font-size="22.8" text-anchor="end">perylene</text>
<path d="M396.7,31.8 H454.7" stroke="#0000cc" stroke-width="1.7" stroke-dasharray="5,3.2"/>
<text x="514.6" y="38" font-size="24.3" text-anchor="middle">(a)</text>
<path d="M107.30,433.95 L114.08,431.64 L120.86,429.37 L127.64,427.13 L134.43,424.92 L141.21,422.73 L147.99,420.56 L154.77,418.39 L161.55,416.23 L168.33,414.07 L175.11,411.90 L181.89,409.74 L188.68,407.56 L195.46,405.37 L202.24,403.17 L209.02,400.96 L215.80,398.73 L222.58,396.47 L229.36,394.20 L236.15,391.90 L242.93,389.58 L249.71,387.23 L256.49,384.86 L263.27,382.45 L270.05,380.01 L276.83,377.55 L283.62,375.05 L290.40,372.52 L297.18,369.95 L303.96,367.35 L310.74,364.72 L317.52,362.05 L324.30,359.36 L331.08,356.62 L337.87,353.86 L344.65,351.06 L351.43,348.23 L358.21,345.38 L364.99,342.49 L371.77,339.57 L378.55,336.63 L385.34,333.66 L392.12,330.67 L398.90,327.66 L405.68,324.62 L412.46,321.57 L419.24,318.51 L426.02,315.43 L432.81,312.34 L439.59,309.24 L446.37,306.14 L453.15,303.04 L459.93,299.94 L466.71,296.85 L473.49,293.76 L480.27,290.69 L487.06,287.63 L493.84,284.59 L500.62,281.57 L507.40,278.59" fill="none" stroke="#000" stroke-width="1.8"/>
<path d="M107.30,437.50 L114.08,434.90 L120.86,432.38 L127.64,429.92 L134.43,427.53 L141.21,425.17 L147.99,422.85 L154.77,420.56 L161.55,418.29 L168.33,416.03 L175.11,413.79 L181.89,411.55 L188.68,409.31 L195.46,407.07 L202.24,404.83 L209.02,402.57 L215.80,400.31 L222.58,398.02 L229.36,395.72 L236.15,393.40 L242.93,391.06 L249.71,388.70 L256.49,386.30 L263.27,383.89 L270.05,381.44 L276.83,378.96 L283.62,376.45 L290.40,373.91 L297.18,371.34 L303.96,368.74 L310.74,366.10 L317.52,363.43 L324.30,360.73 L331.08,358.00 L337.87,355.23 L344.65,352.43 L351.43,349.61 L358.21,346.75 L364.99,343.86 L371.77,340.95 L378.55,338.01 L385.34,335.04 L392.12,332.05 L398.90,329.05 L405.68,326.02 L412.46,322.98 L419.24,319.92 L426.02,316.85 L432.81,313.78 L439.59,310.70 L446.37,307.62 L453.15,304.53 L459.93,301.46 L466.71,298.39 L473.49,295.33 L480.27,292.29 L487.06,289.27 L493.84,286.28 L500.62,283.32 L507.40,280.39" fill="none" stroke="#ffa200" stroke-width="1.8"/>
<path d="M313.6,365.2 V455.0" stroke="#111" stroke-width="0.85"/>
<g transform="translate(119,431.6) rotate(-17)"><ellipse rx="30" ry="11.5" fill="url(#eg)"/></g>
<g transform="translate(501.7,279.9) rotate(-17)"><ellipse rx="30" ry="11.5" fill="url(#eg)"/></g>
<path d="M71.31,455.0 v-5 M71.31,260.8 v5 M95.52,455.0 v-5 M95.52,260.8 v5 M119.74,455.0 v-8.5 M119.74,260.8 v8.5 M143.95,455.0 v-5 M143.95,260.8 v5 M168.17,455.0 v-5 M168.17,260.8 v5 M192.38,455.0 v-5 M192.38,260.8 v5 M216.60,455.0 v-5 M216.60,260.8 v5 M240.81,455.0 v-8.5 M240.81,260.8 v8.5 M265.03,455.0 v-5 M265.03,260.8 v5 M289.24,455.0 v-5 M289.24,260.8 v5 M313.46,455.0 v-5 M313.46,260.8 v5 M337.67,455.0 v-5 M337.67,260.8 v5 M361.89,455.0 v-8.5 M361.89,260.8 v8.5 M386.10,455.0 v-5 M386.10,260.8 v5 M410.32,455.0 v-5 M410.32,260.8 v5 M434.53,455.0 v-5 M434.53,260.8 v5 M458.75,455.0 v-5 M458.75,260.8 v5 M482.96,455.0 v-8.5 M482.96,260.8 v8.5 M507.18,455.0 v-5 M507.18,260.8 v5 M531.39,455.0 v-5 M531.39,260.8 v5 M59.2,455.00 h8.5 M543.5,455.00 h-8.5 M59.2,442.86 h5 M543.5,442.86 h-5 M59.2,430.73 h5 M543.5,430.73 h-5 M59.2,418.59 h5 M543.5,418.59 h-5 M59.2,406.45 h8.5 M543.5,406.45 h-8.5 M59.2,394.31 h5 M543.5,394.31 h-5 M59.2,382.18 h5 M543.5,382.18 h-5 M59.2,370.04 h5 M543.5,370.04 h-5 M59.2,357.90 h8.5 M543.5,357.90 h-8.5 M59.2,345.76 h5 M543.5,345.76 h-5 M59.2,333.62 h5 M543.5,333.62 h-5 M59.2,321.49 h5 M543.5,321.49 h-5 M59.2,309.35 h8.5 M543.5,309.35 h-8.5 M59.2,297.21 h5 M543.5,297.21 h-5 M59.2,285.08 h5 M543.5,285.08 h-5 M59.2,272.94 h5 M543.5,272.94 h-5 M59.2,260.80 h8.5 M543.5,260.80 h-8.5" stroke="#000" stroke-width="1.7" fill="none"/>
<rect x="59.2" y="260.8" width="484.3" height="194.2" fill="none" stroke="#000" stroke-width="2.2"/>
<text transform="translate(49.0,461.1) scale(1,1.06)" font-size="17" text-anchor="end">8</text>
<text transform="translate(49.0,412.6) scale(1,1.06)" font-size="17" text-anchor="end">12</text>
<text transform="translate(49.0,364.0) scale(1,1.06)" font-size="17" text-anchor="end">16</text>
<text transform="translate(49.0,315.5) scale(1,1.06)" font-size="17" text-anchor="end">20</text>
<text transform="translate(49.0,266.9) scale(1,1.06)" font-size="17" text-anchor="end">24</text>
<text transform="translate(117.7,475.7) scale(1,1.13)" font-size="17" text-anchor="middle">1.5</text>
<text transform="translate(240.2,475.7) scale(1,1.13)" font-size="17" text-anchor="middle">1.6</text>
<text transform="translate(359.9,475.7) scale(1,1.13)" font-size="17" text-anchor="middle">1.7</text>
<text transform="translate(479.9,475.7) scale(1,1.13)" font-size="17" text-anchor="middle">1.8</text>
<text x="294.8" y="447.1" font-size="18.8">K</text>
<text x="447.3" y="399" font-size="22.7" text-anchor="end">graphene</text>
<path d="M456,391.9 H516" stroke="#000" stroke-width="1.8"/>
<text x="447.3" y="428.7" font-size="22.7" text-anchor="end">hybrid</text>
<path d="M456,421.2 H516" stroke="#ffa200" stroke-width="1.7"/>
<text x="514.6" y="316.3" font-size="24.6" text-anchor="middle">(b)</text>
<text x="223.3" y="500.4" font-size="18.2">Momentum k [nm<tspan dy="-9" dx="0.5" font-size="14">-1</tspan><tspan dy="9" dx="-1.8"> ]</tspan></text>
<text transform="translate(20.3,353.5) rotate(-90)" font-size="17.5" text-anchor="middle">Matrix element |M<tspan dy="5.5" font-size="13">k</tspan><tspan dy="-5.5">|</tspan><tspan dy="-9.3" font-size="13">2</tspan><tspan dy="9.3"> [nm</tspan><tspan dy="-9.3" font-size="13">-2</tspan><tspan dy="9.3">]</tspan></text>
<path d="M110.6,351.3 L150.0,351.0 L162.0,349.9 L179.4,347.5 L196.0,343.5 L225.4,325.9 L252.7,297.6 L278.5,287.5 L278.5,351.3 Z" fill="url(#ig)"/>
<path d="M110.6,351.3 L150.0,351.0 L162.0,349.9 L179.4,347.5 L196.0,343.5 L225.4,325.9 L252.7,297.6 L278.5,287.5" fill="none" stroke="#000" stroke-width="2.2" stroke-linejoin="round"/>
<path d="M116.89,351.3 v-3.5 M116.89,284.5 v3.5 M122.49,351.3 v-3.5 M122.49,284.5 v3.5 M128.08,351.3 v-3.5 M128.08,284.5 v3.5 M133.68,351.3 v-3.5 M133.68,284.5 v3.5 M139.27,351.3 v-3.5 M139.27,284.5 v3.5 M144.86,351.3 v-6 M144.86,284.5 v6 M150.46,351.3 v-3.5 M150.46,284.5 v3.5 M156.05,351.3 v-3.5 M156.05,284.5 v3.5 M161.65,351.3 v-3.5 M161.65,284.5 v3.5 M167.24,351.3 v-3.5 M167.24,284.5 v3.5 M172.83,351.3 v-3.5 M172.83,284.5 v3.5 M178.43,351.3 v-6 M178.43,284.5 v6 M184.02,351.3 v-3.5 M184.02,284.5 v3.5 M189.62,351.3 v-3.5 M189.62,284.5 v3.5 M195.21,351.3 v-3.5 M195.21,284.5 v3.5 M200.80,351.3 v-3.5 M200.80,284.5 v3.5 M206.40,351.3 v-3.5 M206.40,284.5 v3.5 M211.99,351.3 v-6 M211.99,284.5 v6 M217.59,351.3 v-3.5 M217.59,284.5 v3.5 M223.18,351.3 v-3.5 M223.18,284.5 v3.5 M228.77,351.3 v-3.5 M228.77,284.5 v3.5 M234.37,351.3 v-3.5 M234.37,284.5 v3.5 M239.96,351.3 v-3.5 M239.96,284.5 v3.5 M245.56,351.3 v-6 M245.56,284.5 v6 M251.15,351.3 v-3.5 M251.15,284.5 v3.5 M256.74,351.3 v-3.5 M256.74,284.5 v3.5 M262.34,351.3 v-3.5 M262.34,284.5 v3.5 M267.93,351.3 v-3.5 M267.93,284.5 v3.5 M273.53,351.3 v-3.5 M273.53,284.5 v3.5 M110.6,351.30 h6 M278.5,351.30 h-6 M110.6,336.35 h4 M278.5,336.35 h-4 M110.6,321.40 h6 M278.5,321.40 h-6 M110.6,306.45 h4 M278.5,306.45 h-4 M110.6,291.50 h6 M278.5,291.50 h-6" stroke="#000" stroke-width="1.5" fill="none"/>
<rect x="110.6" y="284.5" width="167.9" height="66.80000000000001" fill="none" stroke="#000" stroke-width="2"/>
<text x="106.9" y="356.1" font-size="14.6" text-anchor="end">0</text>
<text x="106.9" y="326.2" font-size="14.6" text-anchor="end">20</text>
<text x="106.9" y="296.3" font-size="14.6" text-anchor="end">40</text>
<text x="121.2" y="307" font-size="16.7">1 unit cell</text>
<text x="111.6" y="366" font-size="16.5">Γ</text>
<text x="224.6" y="365.6" font-size="16.2">K</text>
<text x="268.6" y="365.6" font-size="16.2">M</text>
</svg>
</body></html>
